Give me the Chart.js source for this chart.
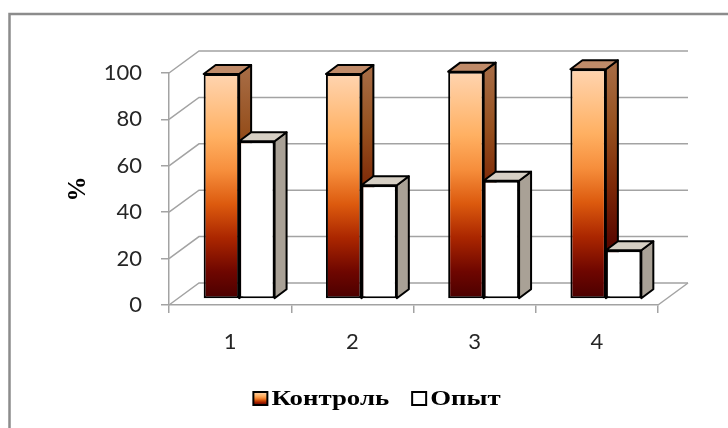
<!DOCTYPE html>
<html>
<head>
<meta charset="utf-8">
<script src="https://cdn.jsdelivr.net/npm/chart.js@4.4.1/dist/chart.umd.min.js"></script>
<style>
  html, body { margin: 0; padding: 0; background: #ffffff; }
  #wrap { width: 728px; height: 428px; }
</style>
</head>
<body>
<div id="wrap"><canvas id="chart" width="728" height="428"></canvas></div>
<script>
// Chart data
const categories = ['1', '2', '3', '4'];
const controlValues = [97, 97, 98, 99];
const experimentValues = [68, 49, 51, 21];
const seriesNames = ['Контроль', 'Опыт'];
const yTickValues = [0, 20, 40, 60, 80, 100];
const yAxisTitle = '%';

// Pseudo-3D geometry (pixel offsets of the receding depth axis)
const WALL = { x: 30, y: -22 };   // back wall relative to the front plane
const SHIFT = { x: 9, y: -6 };    // front face of the bars
const DEPTH = { x: 12, y: -9 };   // thickness of each bar

const GRID = '#a3a3a3';
const TEXT = '#262626';

function frontStops(g) {
  g.addColorStop(0.00, '#4a0000');
  g.addColorStop(0.12, '#6e0600');
  g.addColorStop(0.27, '#aa2600');
  g.addColorStop(0.42, '#dc5a0e');
  g.addColorStop(0.57, '#f68e3c');
  g.addColorStop(0.72, '#ffb062');
  g.addColorStop(0.87, '#ffc48c');
  g.addColorStop(1.00, '#ffd4b0');
  return g;
}
function sideStops(g) {
  g.addColorStop(0.00, '#3e0000');
  g.addColorStop(0.25, '#5a0800');
  g.addColorStop(0.50, '#7e2a08');
  g.addColorStop(0.75, '#96501e');
  g.addColorStop(1.00, '#a66a42');
  return g;
}

const faceStyles = [
  { top: '#c08b69', side: 'gradient' },
  { top: '#d6cfc4', side: '#a9a196' }
];

function controlFill(c) {
  const chart = c.chart;
  const ys = chart.scales && chart.scales.y;
  if (!ys || typeof c.raw !== 'number') return '#e06a1c';
  const y0 = ys.getPixelForValue(0);
  const y1 = ys.getPixelForValue(c.raw);
  if (!isFinite(y0) || !isFinite(y1) || y0 === y1) return '#e06a1c';
  return frontStops(chart.ctx.createLinearGradient(0, y0, 0, y1));
}

const depthPlugin = {
  id: 'depth3d',
  beforeDraw(chart) {
    const ctx = chart.ctx;
    ctx.save();
    ctx.strokeStyle = '#8c8c8c';
    ctx.lineWidth = 2.5;
    ctx.strokeRect(9.5, 14, 760, 460);
    ctx.restore();
  },
  beforeDatasetsDraw(chart) {
    const { ctx, scales: { x, y } } = chart;
    ctx.save();
    ctx.strokeStyle = GRID;
    ctx.lineWidth = 1.5;
    // left wall diagonals and back wall gridlines
    yTickValues.forEach(v => {
      const py = y.getPixelForValue(v);
      ctx.beginPath();
      ctx.moveTo(x.left, py);
      ctx.lineTo(x.left + WALL.x, py + WALL.y);
      ctx.lineTo(x.right + WALL.x, py + WALL.y);
      ctx.stroke();
    });
    // right edge of the floor
    const p0 = y.getPixelForValue(0);
    ctx.beginPath();
    ctx.moveTo(x.right, p0);
    ctx.lineTo(x.right + WALL.x, p0 + WALL.y);
    ctx.stroke();

    // side and top faces of every bar
    ctx.translate(SHIFT.x, SHIFT.y);
    ctx.lineJoin = 'round';
    ctx.strokeStyle = '#000000';
    ctx.lineWidth = 2;
    categories.forEach((_, j) => {
      chart.data.datasets.forEach((ds, i) => {
        const bar = chart.getDatasetMeta(i).data[j];
        if (!bar) return;
        const l = bar.x - bar.width / 2;
        const r = bar.x + bar.width / 2;
        const t = bar.y;
        const b = bar.base;
        const st = faceStyles[i];
        // side
        ctx.beginPath();
        ctx.moveTo(r, t);
        ctx.lineTo(r + DEPTH.x, t + DEPTH.y);
        ctx.lineTo(r + DEPTH.x, b + DEPTH.y);
        ctx.lineTo(r, b);
        ctx.closePath();
        ctx.fillStyle = st.side === 'gradient'
          ? sideStops(ctx.createLinearGradient(0, b, 0, t))
          : st.side;
        ctx.fill();
        ctx.stroke();
        // top
        ctx.beginPath();
        ctx.moveTo(l, t);
        ctx.lineTo(l + DEPTH.x, t + DEPTH.y);
        ctx.lineTo(r + DEPTH.x, t + DEPTH.y);
        ctx.lineTo(r, t);
        ctx.closePath();
        ctx.fillStyle = st.top;
        ctx.fill();
        ctx.stroke();
      });
    });
    ctx.restore();
  },
  beforeDatasetDraw(chart) {
    chart.ctx.save();
    chart.ctx.translate(SHIFT.x, SHIFT.y);
  },
  afterDatasetDraw(chart) {
    chart.ctx.restore();
  },
  afterDraw(chart) {
    // legend row (wide bold serif lettering)
    const ctx = chart.ctx;
    ctx.save();
    ctx.font = 'bold 22px "Liberation Serif"';
    ctx.textBaseline = 'middle';
    ctx.textAlign = 'left';
    const stretch = 1.22;
    const box = 14, gap = 4, itemGap = 23, cy = 399;
    const widths = seriesNames.map(s => ctx.measureText(s).width * stretch);
    const total = widths.reduce((a, w) => a + box + gap + w, 0) + itemGap;
    let cx = 377 - total / 2;
    seriesNames.forEach((name, i) => {
      const top = cy - box / 2;
      ctx.fillStyle = i === 0
        ? frontStops(ctx.createLinearGradient(0, top + box, 0, top))
        : '#ffffff';
      ctx.fillRect(cx, top, box, box - 1);
      ctx.strokeStyle = '#000000';
      ctx.lineWidth = 2;
      ctx.strokeRect(cx, top, box, box - 1);
      ctx.save();
      ctx.translate(cx + box + gap, cy);
      ctx.scale(stretch, 1);
      ctx.fillStyle = '#000000';
      ctx.fillText(name, 0, 0);
      ctx.restore();
      cx += box + gap + widths[i] + itemGap;
    });
    ctx.restore();
  }
};

new Chart(document.getElementById('chart'), {
  type: 'bar',
  data: {
    labels: categories,
    datasets: [
      {
        label: seriesNames[0],
        data: controlValues,
        backgroundColor: controlFill,
        borderColor: '#000000',
        borderWidth: 2,
        borderSkipped: false,
        clip: false
      },
      {
        label: seriesNames[1],
        data: experimentValues,
        backgroundColor: '#ffffff',
        borderColor: '#000000',
        borderWidth: 2,
        borderSkipped: false,
        clip: false
      }
    ]
  },
  options: {
    responsive: false,
    animation: false,
    events: [],
    layout: { padding: { left: 61, right: 70, top: 73, bottom: 0 } },
    datasets: { bar: { categoryPercentage: 0.58, barPercentage: 1.0 } },
    plugins: {
      legend: { display: false },
      tooltip: { enabled: false }
    },
    scales: {
      x: {
        grid: { display: true, offset: true, drawOnChartArea: false, drawTicks: true, tickLength: 8, color: GRID, lineWidth: 1.5 },
        border: { display: true, color: GRID, width: 1.5 },
        ticks: { color: TEXT, font: { family: 'Lato', size: 22 }, padding: 16 },
        afterFit: s => { s.height = 123; }
      },
      y: {
        min: 0,
        max: 100,
        afterBuildTicks: s => { s.ticks = yTickValues.map(v => ({ value: v })); },
        grid: { display: true, drawOnChartArea: false, drawTicks: true, tickLength: 8, color: GRID, lineWidth: 1.5 },
        border: { display: true, color: GRID, width: 1.5 },
        ticks: { color: TEXT, font: { family: 'Lato', size: 22 }, padding: 19 },
        title: {
          display: true,
          text: yAxisTitle,
          color: '#000000',
          padding: { top: 3, bottom: 4 },
          font: { family: 'Liberation Serif', size: 25, weight: 'bold' }
        },
        afterFit: s => { s.width = 108; }
      }
    }
  },
  plugins: [depthPlugin]
});
</script>
</body>
</html>
